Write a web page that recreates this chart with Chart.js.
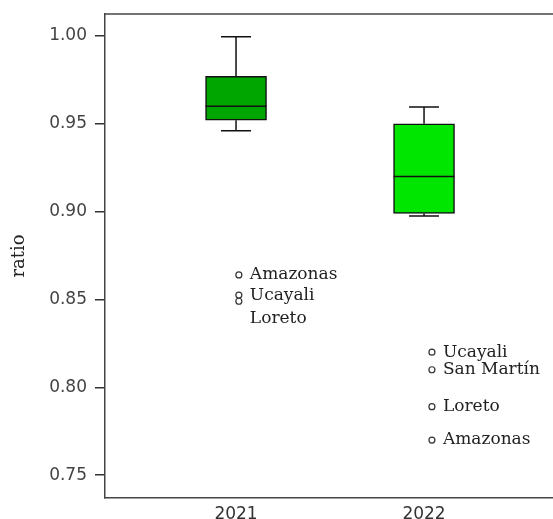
<!DOCTYPE html>
<html>
<head>
<meta charset="utf-8">
<script src="https://cdn.jsdelivr.net/npm/chart.js@4"></script>
<style>
  body { margin: 0; background: #fff; }
  #wrap { width: 553px; height: 519px; }
</style>
</head>
<body>
<div id="wrap"><canvas id="myChart"></canvas></div>
<script>
// box plot data (ratio per year)
var categories = ['2021', '2022'];
var whiskerLow = [0.946, 0.8975];
var q1 = [0.952, 0.899];
var median = [0.960, 0.920];
var q3 = [0.977, 0.950];
var whiskerHigh = [0.9995, 0.9596];

// outliers
var outlierCat = ['2021', '2021', '2021', '2022', '2022', '2022', '2022'];
var outlierNames = ['Amazonas', 'Ucayali', 'Loreto', 'Ucayali', 'San Martín', 'Loreto', 'Amazonas'];
var outlierValues = [0.864, 0.8525, 0.849, 0.820, 0.810, 0.789, 0.770];

var yTicks = [0.75, 0.80, 0.85, 0.90, 0.95, 1.00];

// style bits
var boxColors = ['rgb(0,166,0)', 'rgb(0,230,0)'];
var outlierShift = [0.015, 0.042];
var labelShiftY = { 2: 17 };   // Loreto 2021 label pushed below Ucayali

const ctx = document.getElementById('myChart').getContext('2d');

var boxData = categories.map(function (c, i) {
    return { x: i, y: [q1[i], q3[i]] };
});
var outlierData = outlierValues.map(function (v, i) {
    var ci = categories.indexOf(outlierCat[i]);
    return { x: ci + outlierShift[ci], y: v };
});

const boxPlugin = {
    id: 'boxExtras',
    afterDatasetsDraw: function (chart) {
        var c = chart.ctx;
        var xs = chart.scales.x, ys = chart.scales.y;
        var area = chart.chartArea;
        var bars = chart.getDatasetMeta(0).data;
        c.save();
        // top frame line
        c.strokeStyle = '#444';
        c.lineWidth = 1.5;
        c.beginPath();
        c.moveTo(area.left, area.top);
        c.lineTo(area.right, area.top);
        c.stroke();

        c.strokeStyle = '#111';
        c.lineWidth = 1.5;
        for (let i = 0; i < categories.length; i++) {
            var x = xs.getPixelForValue(i);
            var w = bars[i].width;
            var cap = 15;
            c.beginPath();
            c.moveTo(x, ys.getPixelForValue(q3[i]));
            c.lineTo(x, ys.getPixelForValue(whiskerHigh[i]));
            c.moveTo(x - cap, ys.getPixelForValue(whiskerHigh[i]));
            c.lineTo(x + cap, ys.getPixelForValue(whiskerHigh[i]));
            c.moveTo(x, ys.getPixelForValue(q1[i]));
            c.lineTo(x, ys.getPixelForValue(whiskerLow[i]));
            c.moveTo(x - cap, ys.getPixelForValue(whiskerLow[i]));
            c.lineTo(x + cap, ys.getPixelForValue(whiskerLow[i]));
            c.moveTo(x - w / 2, ys.getPixelForValue(median[i]));
            c.lineTo(x + w / 2, ys.getPixelForValue(median[i]));
            c.stroke();
        }

        // outlier names
        var pts = chart.getDatasetMeta(1).data;
        c.fillStyle = '#222';
        c.font = '17px "DejaVu Serif"';
        c.textBaseline = 'middle';
        c.textAlign = 'left';
        for (let i = 0; i < pts.length; i++) {
            var dy = labelShiftY[i] || 0;
            c.fillText(outlierNames[i], pts[i].x + 11, pts[i].y + dy);
        }
        c.restore();
    }
};

const myChart = new Chart(ctx, {
    type: 'bar',
    data: {
        datasets: [{
            label: 'box',
            data: boxData,
            backgroundColor: boxColors,
            borderColor: '#111',
            borderWidth: 1.5,
            borderSkipped: false,
            barThickness: 61
        },
        {
            label: 'outliers',
            type: 'scatter',
            data: outlierData,
            pointStyle: 'circle',
            pointRadius: 3,
            pointBorderWidth: 1.2,
            pointBackgroundColor: '#fff',
            pointBorderColor: '#333'
        }]
    },
    options: {
        responsive: true,
        maintainAspectRatio: false,
        animation: false,
        layout: { autoPadding: false, padding: { top: 14, left: 0, right: 0, bottom: 0 } },
        plugins: {
            legend: { display: false },
            tooltip: { enabled: false }
        },
        scales: {
            x: {
                type: 'linear',
                offset: false,
                min: -0.697,
                max: 1.686,
                grid: { display: false, drawTicks: false },
                border: { display: true, color: '#444', width: 1.5 },
                afterBuildTicks: function (scale) {
                    scale.ticks = categories.map(function (c, i) { return { value: i }; });
                },
                afterFit: function (scale) {
                    scale.height = 21;
                    scale.paddingLeft = 0;
                    scale.paddingRight = 0;
                },
                ticks: {
                    padding: 6,
                    color: '#333',
                    font: { family: 'DejaVu Sans', size: 17 },
                    callback: function (value) { return categories[value]; }
                }
            },
            y: {
                min: 0.737,
                max: 1.0125,
                grid: { drawOnChartArea: false, drawTicks: true, tickLength: 10, color: '#333', lineWidth: 1.5 },
                border: { display: true, color: '#444', width: 1.5 },
                afterBuildTicks: function (scale) {
                    scale.ticks = yTicks.map(function (v) { return { value: v }; });
                },
                afterFit: function (scale) {
                    scale.width = 105;
                    scale.paddingTop = 0;
                    scale.paddingBottom = 0;
                },
                title: {
                    display: true,
                    text: 'ratio',
                    color: '#222',
                    padding: { top: 9, bottom: 0 },
                    font: { family: 'DejaVu Serif', size: 18 }
                },
                ticks: {
                    padding: 8,
                    color: '#444',
                    font: { family: 'DejaVu Sans', size: 17 },
                    callback: function (value) { return value.toFixed(2); }
                }
            }
        }
    },
    plugins: [boxPlugin]
});
</script>
</body>
</html>
